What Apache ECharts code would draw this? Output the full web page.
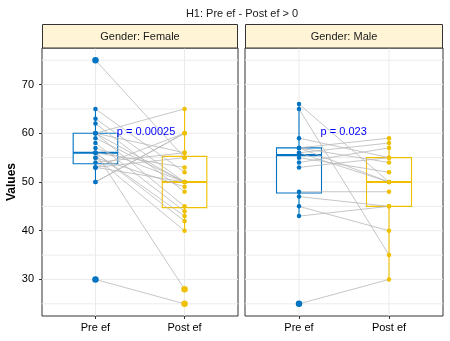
<!DOCTYPE html>
<html>
<head>
<meta charset="utf-8">
<script src="https://cdn.jsdelivr.net/npm/echarts@6.0.0/dist/echarts.min.js"></script>
<style>html,body{margin:0;padding:0;background:#fff}#main{width:450px;height:341px}</style>
</head>
<body>
<div id="main"></div>
<script>
// ---- data ----
const categories = ['Pre ef', 'Post ef'];
const panelLabels = ['Gender: Female', 'Gender: Male'];
const pValues = ['p = 0.00025', 'p = 0.023'];
const yTickValues = [30, 40, 50, 60, 70];
const yGridValues = [25, 30, 35, 40, 45, 50, 55, 60, 65, 70, 75];
// paired observations (same index = same subject)
const femalePre  = [75, 65, 63, 62, 60, 60, 60, 60, 59, 58, 57, 56, 56, 56, 56, 55, 55, 54, 53, 53, 53, 50, 50, 30];
const femalePost = [55, 52, 50, 48, 65, 56, 50, 45, 50, 44, 50, 53, 43, 42, 28, 49, 40, 56, 60, 55, 50, 60, 60, 25];
const malePre    = [66, 65, 59, 57, 57, 57, 56, 56, 55, 54, 53, 48, 47, 45, 43, 25];
const malePost   = [50, 35, 55, 59, 50, 54, 58, 50, 52, 57, 55, 48, 45, 40, 45, 30];

const FONT = '"Liberation Sans", Arial, sans-serif';
const C_PRE = '#0073C2', C_POST = '#EFC000';
const GRID_COLOR = '#EBEBEB';

function quantile(arr, p) {
  const s = [...arr].sort((a, b) => a - b);
  const h = (s.length - 1) * p, lo = Math.floor(h);
  const nx = lo + 1 < s.length ? s[lo + 1] : s[lo];
  return s[lo] + (h - lo) * (nx - s[lo]);
}
function boxStats(arr) {
  const q1 = quantile(arr, 0.25), med = quantile(arr, 0.5), q3 = quantile(arr, 0.75);
  const iqr = q3 - q1, lf = q1 - 1.5 * iqr, uf = q3 + 1.5 * iqr;
  const inside = arr.filter(v => v >= lf && v <= uf);
  return { lo: Math.min(...inside), q1, med, q3, hi: Math.max(...inside), lf, uf };
}

const panels = [
  { pre: femalePre, post: femalePost, grid: { left: 42, top: 48, width: 196, height: 268 } },
  { pre: malePre, post: malePost, grid: { left: 245, top: 48, width: 198, height: 268 } }
];

const grids = [], xAxes = [], yAxes = [], series = [], graphics = [];

graphics.push({
  type: 'text',
  style: { x: 242, y: 14, text: 'H1: Pre ef - Post ef > 0', fill: '#1a1a1a', font: '11px ' + FONT, textAlign: 'center', textVerticalAlign: 'middle' }
});

panels.forEach((p, i) => {
  const g = p.grid;
  grids.push(Object.assign({ show: true, borderColor: '#333', borderWidth: 1, backgroundColor: '#fff', containLabel: false }, g));
  graphics.push({
    type: 'rect', shape: { x: g.left + 0.5, y: 24.5, width: g.width - 1, height: g.top - 24.5 },
    style: { fill: '#FFF5D6', stroke: '#333', lineWidth: 1 }, z: 10
  });
  graphics.push({
    type: 'text', z: 11,
    style: { x: g.left + g.width / 2, y: 37, text: panelLabels[i], fill: '#1a1a1a', font: '11px ' + FONT, textAlign: 'center', textVerticalAlign: 'middle' }
  });
  xAxes.push({
    gridIndex: i, type: 'value', min: 0.4, max: 2.6,
    axisLine: { show: false },
    axisTick: { show: true, customValues: [1, 2], length: 3, lineStyle: { color: '#333' } },
    axisLabel: { customValues: [1, 2], formatter: v => categories[Math.round(v) - 1], color: '#000', fontSize: 11, fontFamily: FONT, margin: 6 },
    splitLine: { show: false }
  });
  yAxes.push({
    gridIndex: i, type: 'value', min: 22.5, max: 77.5,
    axisLine: { show: false },
    axisTick: { show: i === 0, customValues: yTickValues, length: 3, lineStyle: { color: '#333' } },
    axisLabel: { show: i === 0, customValues: yTickValues, color: '#000', fontSize: 11, fontFamily: FONT, margin: 8 },
    splitLine: { show: false },
    name: i === 0 ? 'Values' : '', nameLocation: 'middle', nameGap: 21,
    nameTextStyle: { fontWeight: 'bold', fontSize: 12, fontFamily: FONT, color: '#000' }
  });

  // grid lines
  const gridData = yGridValues.map(v => [0, v]).concat([[1, 1], [1, 2]]);
  series.push({
    type: 'custom', xAxisIndex: i, yAxisIndex: i, z: 0, silent: true,
    data: gridData,
    renderItem: (params, api) => {
      const horiz = api.value(0) === 0, v = api.value(1);
      const a = horiz ? api.coord([0.4, v]) : api.coord([v, 22.5]);
      const b = horiz ? api.coord([2.6, v]) : api.coord([v, 77.5]);
      return { type: 'line', shape: { x1: a[0], y1: a[1], x2: b[0], y2: b[1] }, style: { stroke: GRID_COLOR, lineWidth: 1 } };
    }
  });

  // boxes
  const bs = [boxStats(p.pre), boxStats(p.post)];
  const boxData = bs.map((s, k) => [k + 1, s.lo, s.q1, s.med, s.q3, s.hi]);
  series.push({
    type: 'custom', xAxisIndex: i, yAxisIndex: i, z: 1, silent: true,
    data: boxData,
    renderItem: (params, api) => {
      const x = api.value(0), col = x === 1 ? C_PRE : C_POST, hw = 0.25;
      const lo = api.coord([x, api.value(1)]), q1 = api.coord([x - hw, api.value(2)]);
      const md1 = api.coord([x - hw, api.value(3)]), md2 = api.coord([x + hw, api.value(3)]);
      const q3 = api.coord([x + hw, api.value(4)]), hi = api.coord([x, api.value(5)]);
      const q1c = api.coord([x, api.value(2)]), q3c = api.coord([x, api.value(4)]);
      return {
        type: 'group', children: [
          { type: 'rect', shape: { x: q1[0], y: q3[1], width: q3[0] - q1[0], height: q1[1] - q3[1] }, style: { fill: '#fff', stroke: col, lineWidth: 1.1 } },
          { type: 'line', shape: { x1: q3c[0], y1: q3c[1], x2: hi[0], y2: hi[1] }, style: { stroke: col, lineWidth: 1.1 } },
          { type: 'line', shape: { x1: q1c[0], y1: q1c[1], x2: lo[0], y2: lo[1] }, style: { stroke: col, lineWidth: 1.1 } },
          { type: 'line', shape: { x1: md1[0], y1: md1[1], x2: md2[0], y2: md2[1] }, style: { stroke: col, lineWidth: 2.2 } }
        ]
      };
    }
  });

  // paired lines
  series.push({
    type: 'custom', xAxisIndex: i, yAxisIndex: i, z: 2, silent: true,
    data: p.pre.map((v, k) => [1, v, 2, p.post[k]]),
    renderItem: (params, api) => {
      const a = api.coord([api.value(0), api.value(1)]), b = api.coord([api.value(2), api.value(3)]);
      return { type: 'line', shape: { x1: a[0], y1: a[1], x2: b[0], y2: b[1] }, style: { stroke: '#B8B8B8', lineWidth: 0.8 } };
    }
  });

  // points
  [p.pre, p.post].forEach((arr, k) => {
    const s = bs[k];
    series.push({
      type: 'scatter', xAxisIndex: i, yAxisIndex: i, z: 3, silent: true,
      symbol: 'circle',
      symbolSize: d => (d[1] < s.lf || d[1] > s.uf) ? 6.5 : 4.5,
      itemStyle: { color: k === 0 ? C_PRE : C_POST, opacity: 1 },
      data: arr.map(v => [k + 1, v])
    });
  });

  // p-value label
  series.push({
    type: 'custom', xAxisIndex: i, yAxisIndex: i, z: 4, silent: true,
    data: [[1.24, 60.3]],
    renderItem: (params, api) => {
      const c = api.coord([api.value(0), api.value(1)]);
      return { type: 'text', style: { x: c[0], y: c[1], text: pValues[i], fill: '#0000FF', font: '11px ' + FONT, textAlign: 'left', textVerticalAlign: 'middle' } };
    }
  });
});

const chart = echarts.init(document.getElementById('main'));
chart.setOption({
  animation: false,
  backgroundColor: '#fff',
  grid: grids, xAxis: xAxes, yAxis: yAxes, series: series,
  graphic: graphics
});
</script>
</body>
</html>
